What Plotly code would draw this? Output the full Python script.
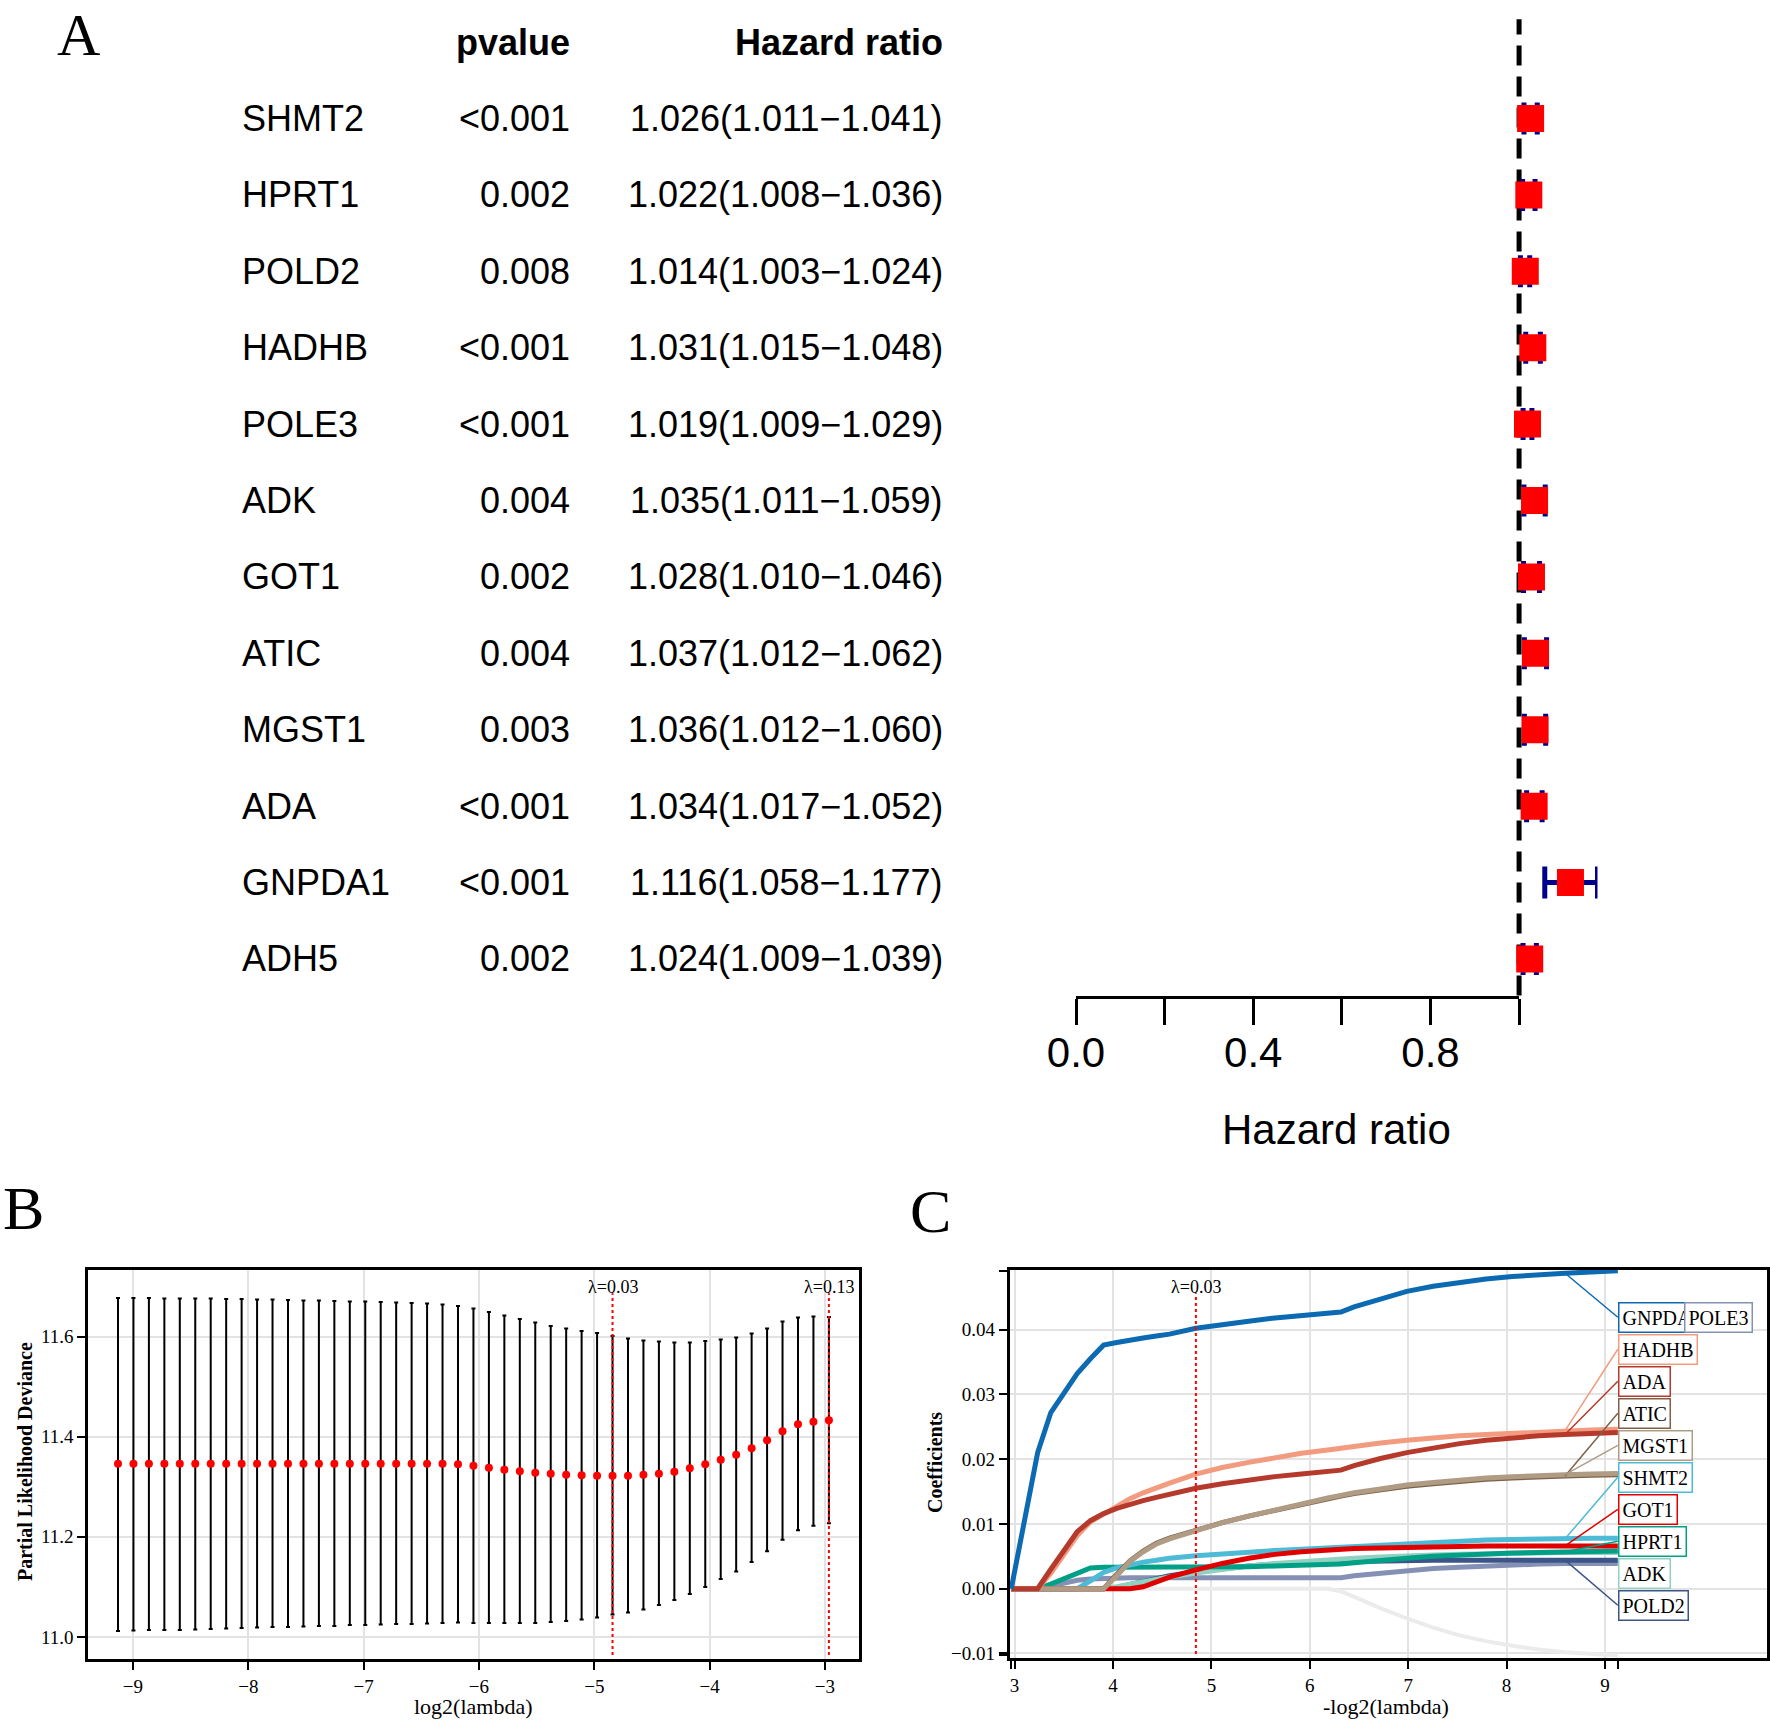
import plotly.graph_objects as go

W, H = 1770, 1722
SANS = "Liberation Sans, Arial, sans-serif"
SERIF = "Liberation Serif, Times New Roman, serif"

# ---------------- Panel A data (univariate Cox) ----------------
genes = ["SHMT2", "HPRT1", "POLD2", "HADHB", "POLE3", "ADK",
         "GOT1", "ATIC", "MGST1", "ADA", "GNPDA1", "ADH5"]
pvalues = ["<0.001", "0.002", "0.008", "<0.001", "<0.001", "0.004",
           "0.002", "0.004", "0.003", "<0.001", "<0.001", "0.002"]
hr = [1.026, 1.022, 1.014, 1.031, 1.019, 1.035, 1.028, 1.037, 1.036, 1.034, 1.116, 1.024]
hr_low = [1.011, 1.008, 1.003, 1.015, 1.009, 1.011, 1.010, 1.012, 1.012, 1.017, 1.058, 1.009]
hr_high = [1.041, 1.036, 1.024, 1.048, 1.029, 1.059, 1.046, 1.062, 1.060, 1.052, 1.177, 1.039]
hr_ticks = [0.0, 0.2, 0.4, 0.6, 0.8, 1.0]
hr_ticktext = ["0.0", "", "0.4", "", "0.8", ""]

# ---------------- Panel B data (cv.glmnet) ----------------
log2_lambda = [-9.130, -8.996, -8.862, -8.728, -8.594, -8.460, -8.326, -8.192, -8.058, -7.924,
               -7.790, -7.656, -7.522, -7.388, -7.254, -7.120, -6.986, -6.852, -6.718, -6.584,
               -6.450, -6.316, -6.182, -6.048, -5.914, -5.780, -5.646, -5.512, -5.378, -5.244,
               -5.110, -4.976, -4.842, -4.708, -4.574, -4.440, -4.306, -4.172, -4.038, -3.904,
               -3.770, -3.636, -3.502, -3.368, -3.234, -3.100, -2.966]
deviance = [11.346, 11.346, 11.346, 11.346, 11.346, 11.346, 11.346, 11.346, 11.346, 11.346,
            11.346, 11.346, 11.346, 11.346, 11.346, 11.346, 11.346, 11.346, 11.346, 11.346,
            11.346, 11.346, 11.345, 11.342, 11.338, 11.334, 11.331, 11.328, 11.326, 11.324,
            11.323, 11.322, 11.322, 11.322, 11.324, 11.326, 11.330, 11.337, 11.345, 11.354,
            11.364, 11.377, 11.393, 11.411, 11.425, 11.430, 11.433]
dev_upper = [11.677, 11.677, 11.677, 11.676, 11.676, 11.676, 11.676, 11.675, 11.675, 11.674,
             11.674, 11.673, 11.672, 11.672, 11.671, 11.670, 11.670, 11.669, 11.668, 11.667,
             11.666, 11.664, 11.661, 11.656, 11.649, 11.642, 11.635, 11.628, 11.621, 11.616,
             11.611, 11.607, 11.601, 11.596, 11.592, 11.590, 11.588, 11.588, 11.591, 11.594,
             11.598, 11.606, 11.616, 11.630, 11.638, 11.640, 11.639]
dev_lower = [11.012, 11.013, 11.014, 11.014, 11.014, 11.015, 11.016, 11.017, 11.018, 11.019,
             11.020, 11.020, 11.021, 11.022, 11.022, 11.024, 11.024, 11.025, 11.026, 11.026,
             11.027, 11.028, 11.029, 11.028, 11.028, 11.028, 11.028, 11.028, 11.030, 11.032,
             11.035, 11.039, 11.045, 11.049, 11.055, 11.064, 11.074, 11.086, 11.100, 11.116,
             11.131, 11.150, 11.171, 11.194, 11.213, 11.222, 11.227]
lambda_min_log2 = -4.842
lambda_1se_log2 = -2.966
lambda_min_label = "λ=0.03"
lambda_1se_label = "λ=0.13"

# ---------------- Panel C data (coefficient paths) ----------------
neg_log2_lambda = [2.966, 3.100, 3.234, 3.368, 3.502, 3.636, 3.770, 3.904, 4.038, 4.172,
                   4.306, 4.440, 4.574, 4.842, 5.110, 5.378, 5.646, 5.914, 6.182, 6.316,
                   6.450, 6.718, 6.986, 7.254, 7.522, 7.790, 8.058, 8.326, 8.594, 8.862, 9.130]
coef_GNPDA1 = [0.0, 0.0108, 0.0210, 0.0272, 0.0302, 0.0332, 0.0355, 0.0376, 0.0380, 0.0384,
               0.0387, 0.0390, 0.0393, 0.0402, 0.0408, 0.0413, 0.0418, 0.0422, 0.0425, 0.0427,
               0.0435, 0.0448, 0.0459, 0.0467, 0.0473, 0.0478, 0.0482, 0.0485, 0.0487, 0.0489, 0.0491]
coef_HADHB = [0.0, 0.0, 0.0, 0.0024, 0.0054, 0.0082, 0.0103, 0.0115, 0.0128, 0.0139,
              0.0148, 0.0156, 0.0163, 0.0177, 0.0187, 0.0195, 0.0202, 0.0209, 0.0214, 0.0217,
              0.0220, 0.0225, 0.0229, 0.0233, 0.0236, 0.0238, 0.0240, 0.0242, 0.0244, 0.0245, 0.0246]
coef_ADA = [0.0, 0.0, 0.0, 0.0030, 0.0060, 0.0088, 0.0105, 0.0116, 0.0124, 0.0131,
            0.0136, 0.0141, 0.0146, 0.0155, 0.0162, 0.0168, 0.0173, 0.0177, 0.0180, 0.0183,
            0.0190, 0.0201, 0.0210, 0.0217, 0.0224, 0.0229, 0.0233, 0.0236, 0.0238, 0.0240, 0.0241]
coef_ATIC = [0.0, 0.0, 0.0, 0.0, 0.0, 0.0, 0.0, 0.0, 0.0022, 0.0043,
             0.0058, 0.0070, 0.0078, 0.0090, 0.0102, 0.0112, 0.0121, 0.0131, 0.0140, 0.0143,
             0.0147, 0.0153, 0.0158, 0.0162, 0.0166, 0.0169, 0.0171, 0.0173, 0.0174, 0.0175, 0.0176]
coef_MGST1 = [0.0, 0.0, 0.0, 0.0, 0.0, 0.0, 0.0, 0.0, 0.0020, 0.0042,
              0.0057, 0.0069, 0.0077, 0.0090, 0.0102, 0.0112, 0.0122, 0.0131, 0.0140, 0.0144,
              0.0148, 0.0154, 0.0160, 0.0164, 0.0168, 0.0171, 0.0173, 0.0175, 0.0176, 0.0177, 0.0178]
coef_SHMT2 = [0.0, 0.0, 0.0, 0.0, 0.0, 0.0, 0.0012, 0.0025, 0.0032, 0.0037,
              0.0041, 0.0044, 0.0047, 0.0051, 0.0054, 0.0057, 0.0059, 0.0061, 0.0063, 0.0064,
              0.0066, 0.0068, 0.0070, 0.0072, 0.0074, 0.0075, 0.0076, 0.0077, 0.0077, 0.0078, 0.0078]
coef_GOT1 = [0.0, 0.0, 0.0, 0.0, 0.0, 0.0, 0.0, 0.0, 0.0, 0.0,
             0.0003, 0.0011, 0.0018, 0.0029, 0.0039, 0.0047, 0.0053, 0.0057, 0.0060, 0.0061,
             0.0062, 0.0063, 0.0064, 0.0065, 0.0065, 0.0066, 0.0066, 0.0066, 0.0066, 0.0066, 0.0066]
coef_HPRT1 = [0.0, 0.0, 0.0, 0.0007, 0.0016, 0.0025, 0.0032, 0.0033, 0.0033, 0.0033,
              0.0033, 0.0033, 0.0033, 0.0033, 0.0033, 0.0034, 0.0035, 0.0036, 0.0037, 0.0038,
              0.0040, 0.0044, 0.0047, 0.0050, 0.0052, 0.0054, 0.0055, 0.0056, 0.0057, 0.0057, 0.0058]
coef_ADK = [0.0, 0.0, 0.0, 0.0, 0.0, 0.0, 0.0, 0.0, 0.0003, 0.0007,
            0.0011, 0.0015, 0.0018, 0.0024, 0.0030, 0.0035, 0.0039, 0.0042, 0.0045, 0.0046,
            0.0047, 0.0049, 0.0051, 0.0052, 0.0053, 0.0054, 0.0055, 0.0055, 0.0056, 0.0056, 0.0056]
coef_POLD2 = [0.0, 0.0, 0.0, 0.0, 0.0, 0.0, 0.0, 0.0, 0.0002, 0.0006,
              0.0011, 0.0016, 0.0020, 0.0026, 0.0031, 0.0035, 0.0038, 0.0040, 0.0041, 0.0042,
              0.0042, 0.0043, 0.0043, 0.0044, 0.0044, 0.0044, 0.0044, 0.0044, 0.0044, 0.0044, 0.0044]
coef_POLE3 = [0.0, 0.0, 0.0, 0.0004, 0.0009, 0.0013, 0.0015, 0.0016, 0.0017, 0.0017,
              0.0017, 0.0017, 0.0017, 0.0017, 0.0017, 0.0017, 0.0017, 0.0017, 0.0017, 0.0017,
              0.0020, 0.0024, 0.0028, 0.0031, 0.0033, 0.0035, 0.0037, 0.0038, 0.0039, 0.0039, 0.0039]
coef_ADH5 = [0.0, 0.0, 0.0, 0.0, 0.0, 0.0, 0.0, 0.0, 0.0, 0.0,
             0.0, 0.0, 0.0, 0.0, 0.0, 0.0, 0.0, 0.0, 0.0, -0.0004,
             -0.0013, -0.0030, -0.0046, -0.0060, -0.0072, -0.0081, -0.0088, -0.0094, -0.0098, -0.0101, -0.0103]
lambda_min_neg = 4.842


# ---------------- helpers (pixel -> paper fraction) ----------------
def px_x(p):
    return p / W


def px_y(p):
    return 1 - p / H


fig = go.Figure()
annotations = []
shapes = []

# ================= Panel A =================
rows = list(range(1, len(genes) + 1))
fig.add_trace(go.Scatter(
    x=hr, y=rows, mode="markers", xaxis="x", yaxis="y",
    marker=dict(symbol="square", size=27, color="#FF0000", line=dict(width=0)),
    error_x=dict(type="data", symmetric=False,
                 array=[u - h for u, h in zip(hr_high, hr)],
                 arrayminus=[h - l for h, l in zip(hr, hr_low)],
                 color="#00008B", thickness=5, width=16),
    showlegend=False, hoverinfo="skip"))
# carrier trace so the hazard-ratio tick axis (x2) is drawn
fig.add_trace(go.Scatter(x=[hr_ticks[0]], y=[None], mode="markers", xaxis="x2", yaxis="y",
                         showlegend=False, hoverinfo="skip"))

shapes.append(dict(type="line", xref="x", yref="y domain", x0=1, x1=1, y0=0, y1=1,
                   line=dict(color="black", width=5, dash="20px,11px"), layer="below"))

fs_a = 36
annotations.append(dict(xref="paper", yref="y", x=px_x(572), y=0, xanchor="right", yanchor="middle",
                        text="<b>pvalue</b>", showarrow=False, font=dict(family=SANS, size=fs_a, color="black")))
annotations.append(dict(xref="paper", yref="y", x=px_x(945), y=0, xanchor="right", yanchor="middle",
                        text="<b>Hazard ratio</b>", showarrow=False, font=dict(family=SANS, size=fs_a, color="black")))
for r, g, p, h, lo, up in zip(rows, genes, pvalues, hr, hr_low, hr_high):
    annotations.append(dict(xref="paper", yref="y", x=px_x(239.5), y=r, xanchor="left", yanchor="middle",
                            text=g, showarrow=False, font=dict(family=SANS, size=fs_a, color="black")))
    annotations.append(dict(xref="paper", yref="y", x=px_x(572), y=r, xanchor="right", yanchor="middle",
                            text=p, showarrow=False, font=dict(family=SANS, size=fs_a, color="black")))
    annotations.append(dict(xref="paper", yref="y", x=px_x(945), y=r, xanchor="right", yanchor="middle",
                            text=f"{h:.3f}({lo:.3f}\u2212{up:.3f})", showarrow=False,
                            font=dict(family=SANS, size=fs_a, color="black")))

annotations.append(dict(xref="paper", yref="paper", x=px_x(1336.5), y=px_y(1129), xanchor="center",
                        yanchor="middle", text="Hazard ratio", showarrow=False,
                        font=dict(family=SANS, size=42, color="black")))

hr_max = max(hr_high)
fx0, fx1 = px_x(1076), px_x(1597.5)
tick_end = fx0 + (fx1 - fx0) * (max(hr_ticks) / hr_max)

# ================= Panel B =================
fig.add_trace(go.Scatter(
    x=log2_lambda, y=deviance, mode="markers", xaxis="x3", yaxis="y3",
    marker=dict(size=8, color="#FF0000"),
    error_y=dict(type="data", symmetric=False,
                 array=[u - d for u, d in zip(dev_upper, deviance)],
                 arrayminus=[d - l for d, l in zip(deviance, dev_lower)],
                 color="black", thickness=2, width=2),
    showlegend=False, hoverinfo="skip"))

for xv, lab in [(lambda_min_log2, lambda_min_label), (lambda_1se_log2, lambda_1se_label)]:
    shapes.append(dict(type="line", xref="x3", yref="y3 domain", x0=xv, x1=xv, y0=0.01, y1=0.94,
                       line=dict(color="#FF0000", width=2, dash="dot")))
    annotations.append(dict(xref="x3", yref="y3 domain", x=xv, y=1, yshift=-5, xanchor="center",
                            yanchor="top", text=lab, showarrow=False,
                            font=dict(family=SERIF, size=18, color="black")))

# ================= Panel C =================
gene_paths = [
    ("ADH5", coef_ADH5, "#EBEBEB"),
    ("POLE3", coef_POLE3, "#8491B4"),
    ("POLD2", coef_POLD2, "#3C5488"),
    ("ADK", coef_ADK, "#91D1C2"),
    ("HPRT1", coef_HPRT1, "#00A087"),
    ("SHMT2", coef_SHMT2, "#4DBBD5"),
    ("GOT1", coef_GOT1, "#E00000"),
    ("ATIC", coef_ATIC, "#7E6148"),
    ("MGST1", coef_MGST1, "#B09C85"),
    ("HADHB", coef_HADHB, "#F39B7F"),
    ("ADA", coef_ADA, "#B53A2C"),
    ("GNPDA1", coef_GNPDA1, "#0C6AB2"),
]
path_lookup = {}
for name, ys, col in gene_paths:
    path_lookup[name] = (ys, col)
    fig.add_trace(go.Scatter(x=neg_log2_lambda, y=ys, mode="lines", xaxis="x4", yaxis="y4",
                             line=dict(color=col, width=4 if name == "ADH5" else 5), name=name,
                             showlegend=False, hoverinfo="skip"))

shapes.append(dict(type="line", xref="x4", yref="y4 domain", x0=lambda_min_neg, x1=lambda_min_neg,
                   y0=0.01, y1=0.94, line=dict(color="#FF0000", width=2, dash="dot")))
annotations.append(dict(xref="x4", yref="y4 domain", x=lambda_min_neg, y=1, yshift=-5, xanchor="center",
                        yanchor="top", text=lambda_min_label, showarrow=False,
                        font=dict(family=SERIF, size=18, color="black")))

# repelled labels
label_order = ["GNPDA1", "HADHB", "ADA", "ATIC", "MGST1", "SHMT2", "GOT1", "HPRT1", "ADK", "POLD2"]
label_x = neg_log2_lambda[-1]
label_top = 0.0419
label_step = 0.00494
connector_idx = 28
for k, name in enumerate(label_order):
    ys, col = path_lookup[name]
    ly = label_top - k * label_step
    if name == "ADK":
        annotations.append(dict(xref="x4", yref="y4", x=label_x, y=ly, xanchor="left", yanchor="middle",
                                text=name, showarrow=False, bgcolor="white", bordercolor=col,
                                borderwidth=1.5, borderpad=3,
                                font=dict(family=SERIF, size=20, color="black")))
    else:
        annotations.append(dict(xref="x4", yref="y4", x=neg_log2_lambda[connector_idx], y=ys[connector_idx],
                                axref="x4", ayref="y4", ax=label_x, ay=ly,
                                xanchor="left", yanchor="middle", text=name, showarrow=True,
                                arrowhead=0, arrowwidth=1.5, arrowcolor=col, bgcolor="white",
                                bordercolor=col, borderwidth=1.5, borderpad=3,
                                font=dict(family=SERIF, size=20, color="black")))
# POLE3 label placed next to GNPDA1 (overlapping it, as in the original repel layout)
annotations.append(dict(xref="x4", yref="y4", x=label_x + 0.673, y=label_top, xanchor="left",
                        yanchor="middle", text="POLE3", showarrow=False, bgcolor="white",
                        bordercolor=path_lookup["POLE3"][1], borderwidth=1.5, borderpad=3,
                        font=dict(family=SERIF, size=20, color="black")))

# axis titles & panel letters
annotations += [
    dict(xref="paper", yref="paper", x=px_x(473), y=px_y(1706), text="log2(lambda)", showarrow=False,
         xanchor="center", yanchor="middle", font=dict(family=SERIF, size=22, color="black")),
    dict(xref="paper", yref="paper", x=px_x(25), y=px_y(1462), text="<b>Partial Likelihood Deviance</b>",
         showarrow=False, textangle=-90, xanchor="center", yanchor="middle",
         font=dict(family=SERIF, size=20, color="black")),
    dict(xref="paper", yref="paper", x=px_x(1386), y=px_y(1706), text="-log2(lambda)", showarrow=False,
         xanchor="center", yanchor="middle", font=dict(family=SERIF, size=22, color="black")),
    dict(xref="paper", yref="paper", x=px_x(935), y=px_y(1462), text="<b>Coefficients</b>",
         showarrow=False, textangle=-90, xanchor="center", yanchor="middle",
         font=dict(family=SERIF, size=20, color="black")),
    dict(xref="paper", yref="paper", x=px_x(78), y=1, text="A", showarrow=False,
         xanchor="center", yanchor="top", font=dict(family=SERIF, size=60, color="black")),
    dict(xref="paper", yref="paper", x=px_x(23), y=px_y(1208), text="B", showarrow=False,
         xanchor="center", yanchor="middle", font=dict(family=SERIF, size=62, color="black")),
    dict(xref="paper", yref="paper", x=px_x(930), y=px_y(1211), text="C", showarrow=False,
         xanchor="center", yanchor="middle", font=dict(family=SERIF, size=62, color="black")),
]

grid = "#E3E3E3"
axis_common = dict(showline=True, mirror=True, linecolor="black", linewidth=2.5, ticks="outside",
                   ticklen=8, tickwidth=2, tickcolor="black", showgrid=True, gridcolor=grid,
                   gridwidth=1.5, zeroline=False, automargin=False,
                   tickfont=dict(family=SERIF, size=19, color="black"))

cx_min, cx_max = min(neg_log2_lambda), max(neg_log2_lambda)
all_c = [v for _, ys, _ in gene_paths for v in ys]
cy_min, cy_max = min(all_c), max(all_c)

# panel C: 98.4 px per unit on x, left edge at 2.948
c_left_px, c_right_px = 1009.5, 1767
c_x0 = 2.948
c_x1 = c_x0 + (c_right_px - c_left_px) / 98.4

fig.update_layout(
    width=W, height=H, margin=dict(l=0, r=0, t=0, b=0, pad=0, autoexpand=False),
    paper_bgcolor="white", plot_bgcolor="rgba(0,0,0,0)", showlegend=False,
    # Panel A
    xaxis=dict(domain=[fx0, fx1], range=[0, hr_max], anchor="y", visible=False, automargin=False),
    xaxis2=dict(domain=[fx0, tick_end], range=[0, max(hr_ticks)], anchor="y", showline=True,
                linecolor="black", linewidth=3, ticks="outside", ticklen=26, tickwidth=3,
                tickcolor="black", tickvals=hr_ticks, ticktext=hr_ticktext, showgrid=False,
                zeroline=False, ticklabelstandoff=-8, automargin=False,
                tickfont=dict(family=SANS, size=42, color="black")),
    yaxis=dict(domain=[px_y(995.6), px_y(19.2)], range=[len(genes) + 0.48, -0.3], anchor="x",
               visible=False, automargin=False),
    # Panel B
    xaxis3=dict(domain=[px_x(88), px_x(859)], range=[-9.39, -2.705], anchor="y3",
                tickvals=[-9, -8, -7, -6, -5, -4, -3], **axis_common),
    yaxis3=dict(domain=[px_y(1659), px_y(1270)], range=[10.956, 11.733], anchor="x3",
                tickvals=[11.0, 11.2, 11.4, 11.6], ticktext=["11.0", "11.2", "11.4", "11.6"],
                **axis_common),
    # Panel C
    xaxis4=dict(domain=[px_x(c_left_px), px_x(c_right_px)], range=[c_x0, c_x1], anchor="y4",
                tickvals=[3, 4, 5, 6, 7, 8, 9],
                minor=dict(tickvals=[cx_min, cx_max], ticks="outside", ticklen=8, tickwidth=2,
                           tickcolor="black", showgrid=False),
                **axis_common),
    yaxis4=dict(domain=[px_y(1658), px_y(1270)], range=[-0.0107, 0.0492], anchor="x4",
                tickvals=[-0.01, 0.0, 0.01, 0.02, 0.03, 0.04],
                ticktext=["\u22120.01", "0.00", "0.01", "0.02", "0.03", "0.04"],
                minor=dict(tickvals=[cy_min, cy_max], ticks="outside", ticklen=8, tickwidth=2,
                           tickcolor="black", showgrid=False),
                **axis_common),
    annotations=annotations,
    shapes=shapes,
)

# remove the browser's default 8px body margin so the figure fills the window exactly
fig.write_html("out.html", config={"displayModeBar": False},
               post_script="document.body.style.margin='0px';")
